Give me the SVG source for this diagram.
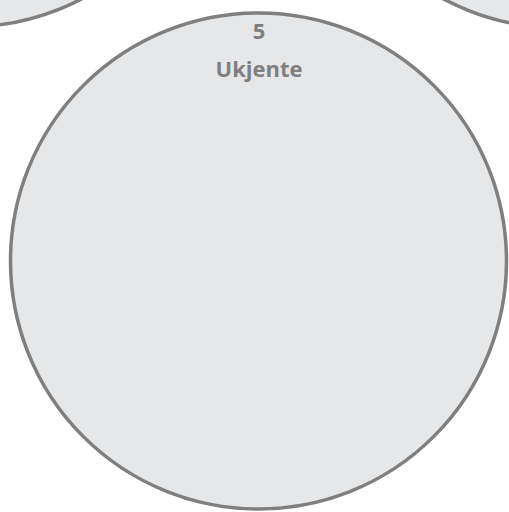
<svg xmlns="http://www.w3.org/2000/svg" width="509" height="512" viewBox="0 0 509 512">
<style>
.c{fill:#e6e7e9;stroke:#7f7f7f;stroke-width:3.5}
.t{font-family:"Open Sans","Liberation Sans",sans-serif;font-weight:bold;font-size:22px;fill:#7f7f7f;text-anchor:middle}
</style>
<rect width="509" height="512" fill="#ffffff"/>
<g id="node-top-left"><circle class="c" cx="-33" cy="-221" r="248"/></g>
<g id="node-top-right"><circle class="c" cx="560" cy="-220" r="248"/></g>
<g id="node-5">
<circle class="c" cx="258.5" cy="261" r="248"/>
<text class="t" x="259" y="38.5">5</text>
<text class="t" x="259" y="76.5">Ukjente</text>
</g>
<g id="connectors"/>
</svg>
